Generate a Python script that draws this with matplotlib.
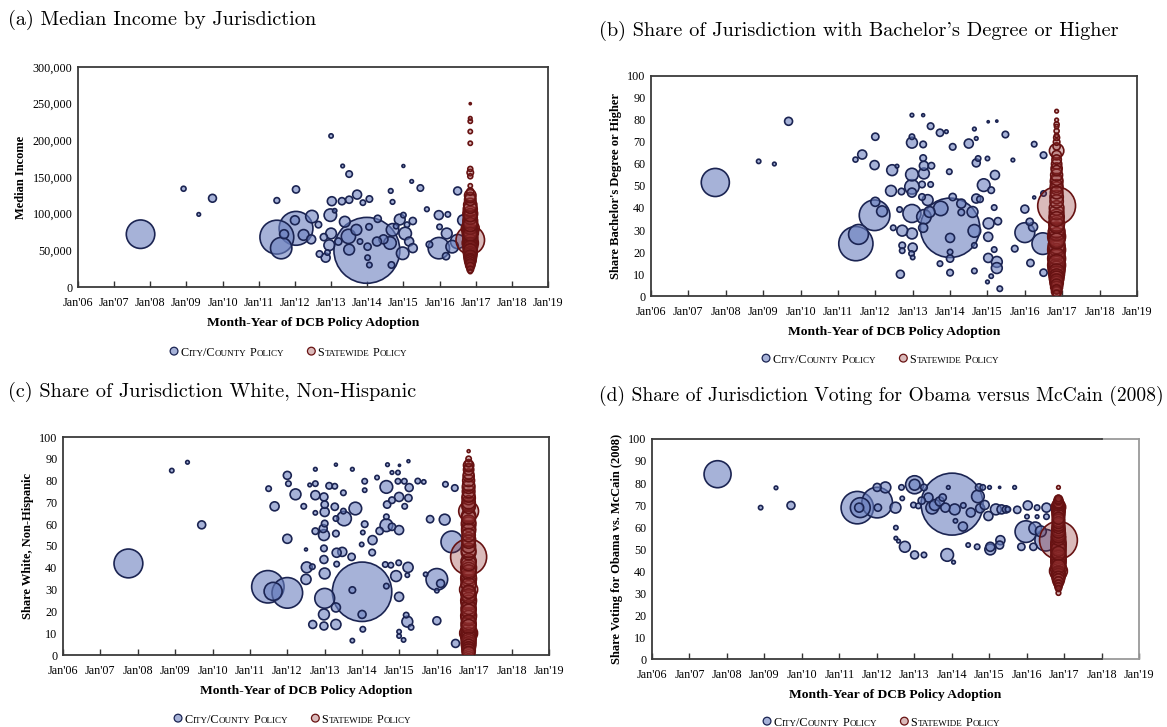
import numpy as np
import matplotlib
matplotlib.use('Agg')
import matplotlib.pyplot as plt
from matplotlib.ticker import StrMethodFormatter
from matplotlib.offsetbox import TextArea, HPacker, DrawingArea, AnchoredOffsetbox
from matplotlib.patches import Circle

# x axis: adoption month as fractional year
tick_years = [2006, 2007, 2008, 2009, 2010, 2011, 2012, 2013, 2014, 2015, 2016, 2017, 2018, 2019]
tick_labels = ["Jan'06", "Jan'07", "Jan'08", "Jan'09", "Jan'10", "Jan'11", "Jan'12",
               "Jan'13", "Jan'14", "Jan'15", "Jan'16", "Jan'17", "Jan'18", "Jan'19"]
state_date = 2016.85  # statewide policies all adopted late 2016

# (a) median income, city/county jurisdictions (pop in thousands)
a_city_date = [2007.73, 2008.92, 2009.34, 2009.72, 2011.50, 2011.50, 2011.62, 2012.03, 2012.03, 2012.00,
               2011.70, 2012.47, 2012.24, 2012.45, 2012.65, 2012.68, 2013.00, 2013.02, 2012.98, 2013.00,
               2012.95, 2012.85, 2013.32, 2013.50, 2013.30, 2013.50, 2013.38, 2013.48, 2013.72, 2013.88,
               2014.06, 2013.99, 2013.70, 2013.50, 2014.29, 2014.05, 2014.01, 2014.01, 2014.06, 2014.27,
               2014.65, 2014.70, 2014.70, 2014.63, 2014.67, 2015.00, 2015.23, 2015.47, 2014.90, 2015.00,
               2015.05, 2014.98, 2015.26, 2015.26, 2015.16, 2015.65, 2015.72, 2015.98, 2015.98, 2016.00,
               2016.23, 2016.20, 2016.50, 2016.50, 2016.18, 2016.35, 2016.65, 2013.10, 2013.20, 2012.80,
               2014.45, 2014.80, 2015.10, 2013.80, 2012.90]
a_city_income = [72000, 134000, 99000, 121000, 118000, 68000, 53000, 133000, 80000, 91000,
                 72000, 96000, 71000, 65000, 85000, 45000, 206000, 117000, 98000, 73000,
                 57000, 40000, 165000, 154000, 117000, 119000, 89000, 69000, 126000, 115000,
                 120000, 50000, 78000, 51000, 93000, 82000, 55000, 40000, 30000, 62000,
                 131000, 116000, 78000, 60000, 30000, 165000, 144000, 135000, 92000, 98000,
                 73000, 46000, 90000, 53000, 62000, 106000, 58000, 98000, 53000, 82000,
                 99000, 73000, 131000, 62000, 42000, 55000, 91000, 104000, 62000, 68000,
                 65000, 83000, 85000, 62000, 47000]
a_city_pop = [1870, 57, 29, 141, 75, 2637, 1052, 117, 2637, 183,
              183, 358, 263, 183, 95, 95, 42, 183, 358, 263,
              263, 183, 29, 95, 117, 117, 263, 467, 183, 66,
              95, 10000, 263, 263, 117, 95, 117, 66, 66, 183,
              49, 49, 358, 358, 95, 19, 29, 95, 263, 66,
              358, 358, 117, 183, 183, 49, 95, 183, 1052, 66,
              66, 263, 141, 467, 117, 358, 263, 42, 117, 117,
              183, 66, 66, 66, 66]
a_state_income = [250000, 230000, 226000, 212000, 196000, 161000, 156000, 151000, 138000, 130000,
                  125000, 122000, 119000, 112000, 109000, 106000, 100000, 98000, 95000, 90000,
                  88000, 85000, 82000, 80000, 76000, 74000, 72000, 68000, 66000, 64000,
                  62000, 60000, 58000, 56000, 54000, 52000, 50000, 48000, 46000, 44000,
                  42000, 40000, 38000, 36000, 34000, 32000, 30000, 28000, 24000, 21000]
a_state_pop = [10, 29, 42, 42, 42, 57, 95, 57, 42, 117,
               300, 250, 300, 400, 350, 450, 500, 400, 450, 500,
               450, 450, 500, 730, 500, 600, 450, 500, 500, 1870,
               500, 600, 450, 500, 450, 450, 400, 450, 400, 400,
               350, 350, 300, 300, 250, 200, 200, 150, 100, 40]

# (b) share with bachelor's degree or higher
b_city_date = [2007.72, 2008.88, 2009.30, 2009.68, 2011.47, 2011.65, 2011.48, 2011.55, 2012.00, 2011.98,
               2011.98, 2012.00, 2012.18, 2012.45, 2012.58, 2012.42, 2012.48, 2012.70, 2012.65, 2012.72,
               2012.72, 2012.72, 2012.67, 2012.98, 2012.98, 2012.98, 2012.98, 2012.98, 2012.98, 2012.98,
               2012.98, 2013.00, 2012.97, 2013.00, 2013.28, 2013.28, 2013.28, 2013.30, 2013.30, 2013.25,
               2013.25, 2013.30, 2013.28, 2013.48, 2013.50, 2013.48, 2013.40, 2013.45, 2013.73, 2013.90,
               2013.75, 2014.00, 2013.98, 2014.07, 2014.07, 2014.00, 2014.00, 2014.00, 2014.00, 2013.73,
               2014.30, 2014.30, 2014.50, 2014.65, 2014.70, 2014.75, 2014.70, 2014.70, 2014.80, 2014.60,
               2014.65, 2014.65, 2014.65, 2015.02, 2015.25, 2015.00, 2014.90, 2015.10, 2015.20, 2015.03,
               2015.02, 2015.18, 2015.02, 2015.18, 2015.25, 2015.25, 2015.10, 2015.00, 2015.33, 2015.28,
               2015.48, 2015.68, 2015.73, 2016.00, 2016.00, 2016.13, 2016.22, 2016.15, 2016.25, 2016.25,
               2016.50, 2016.50, 2016.48, 2016.50]
b_city_share = [51.6, 61.2, 60.0, 79.4, 62.0, 64.3, 23.8, 28.0, 72.4, 59.5,
                36.7, 42.8, 38.5, 57.2, 59.0, 47.8, 31.0, 47.5, 39.3, 29.7,
                23.0, 20.6, 9.9, 82.2, 72.4, 69.7, 55.2, 49.6, 47.0, 37.5,
                28.4, 22.0, 19.3, 17.5, 82.2, 68.9, 62.7, 59.2, 55.7, 50.7,
                45.0, 36.0, 31.0, 77.2, 59.2, 50.7, 43.6, 38.2, 74.2, 74.7,
                39.8, 31.0, 56.5, 67.8, 45.0, 26.4, 20.0, 17.0, 10.6, 14.7,
                42.0, 38.0, 69.3, 75.9, 71.6, 62.5, 60.5, 44.3, 44.0, 38.2,
                29.6, 23.0, 11.4, 79.2, 79.5, 62.5, 50.4, 48.1, 55.0, 33.0,
                26.9, 40.2, 17.3, 21.1, 15.5, 12.7, 9.0, 6.4, 3.3, 34.0,
                73.4, 61.8, 21.5, 39.5, 28.8, 33.7, 31.4, 15.0, 69.0, 44.8,
                64.0, 46.6, 23.8, 10.6]
b_city_pop = [2235, 53, 37, 178, 72, 230, 3315, 1111, 147, 230,
              2654, 230, 331, 331, 37, 331, 83, 119, 83, 331,
              119, 83, 178, 37, 83, 331, 450, 588, 230, 918,
              331, 230, 83, 53, 24, 119, 119, 230, 331, 119,
              119, 588, 230, 119, 119, 83, 331, 331, 147, 37,
              588, 10000, 83, 119, 147, 230, 83, 147, 119, 83,
              230, 119, 230, 37, 37, 83, 178, 230, 119, 331,
              450, 83, 83, 13, 13, 53, 450, 119, 230, 331,
              230, 83, 230, 83, 331, 331, 53, 37, 83, 147,
              119, 37, 119, 178, 1111, 147, 230, 147, 83, 24,
              119, 83, 1322, 147]
b_state_share = [84, 80, 78, 77, 75, 73, 72, 70, 68, 66,
                 64, 62, 60, 58, 57, 55, 53, 52, 50, 49,
                 47, 45, 43, 41, 40, 38, 36, 35, 33, 32,
                 30, 29, 27, 26, 25, 23, 22, 21, 20, 18,
                 17, 15, 14, 13, 12, 11, 10, 9, 8, 7,
                 6, 5, 4, 3, 2, 1]
b_state_pop = [37, 37, 72, 53, 72, 53, 100, 120, 150, 588,
               250, 250, 300, 350, 300, 400, 400, 450, 450, 450,
               450, 500, 500, 4050, 600, 600, 650, 600, 700, 650,
               700, 800, 900, 800, 700, 800, 800, 900, 800, 800,
               900, 800, 900, 800, 800, 700, 700, 600, 600, 500,
               500, 400, 400, 250, 300, 150]

# (c) share white, non-Hispanic
c_city_date = [2007.75, 2008.91, 2009.33, 2009.71, 2011.50, 2011.66, 2011.48, 2011.62, 2012.00, 2012.00,
               2012.03, 2012.00, 2012.22, 2012.44, 2012.50, 2012.52, 2012.50, 2012.67, 2012.68, 2012.75,
               2012.75, 2012.60, 2012.75, 2012.75, 2012.75, 2012.98, 2013.00, 2013.00, 2013.00, 2012.96,
               2012.98, 2012.98, 2012.98, 2013.00, 2013.00, 2012.98, 2012.98, 2013.12, 2013.27, 2013.30,
               2013.27, 2013.30, 2013.30, 2013.32, 2013.47, 2013.32, 2013.30, 2013.30, 2013.50, 2013.52,
               2013.50, 2013.74, 2013.82, 2013.72, 2013.74, 2013.74, 2014.00, 2014.07, 2014.07, 2014.07,
               2014.02, 2013.99, 2014.00, 2014.02, 2014.28, 2014.27, 2014.40, 2014.47, 2014.62, 2014.65,
               2014.68, 2014.80, 2014.96, 2015.00, 2015.24, 2014.65, 2014.67, 2014.65, 2014.65, 2014.80,
               2014.77, 2014.80, 2014.96, 2014.99, 2015.13, 2015.14, 2015.26, 2015.24, 2014.99, 2014.91,
               2014.98, 2015.23, 2015.21, 2014.99, 2015.18, 2015.21, 2015.31, 2014.99, 2014.99, 2015.11,
               2015.49, 2015.65, 2015.70, 2015.82, 2016.00, 2016.10, 2016.00, 2016.00, 2016.23, 2016.21,
               2016.48, 2016.40, 2016.50]
c_city_share = [42.0, 84.6, 88.4, 59.7, 76.3, 68.2, 31.3, 29.2, 28.5, 82.4,
                78.6, 53.3, 73.7, 68.2, 48.4, 40.2, 34.7, 40.5, 14.0, 85.2,
                78.6, 78.0, 73.3, 65.2, 56.8, 72.5, 69.0, 65.6, 60.3, 58.0,
                55.0, 48.9, 43.8, 37.4, 26.0, 18.6, 13.3, 77.6, 77.4, 87.3,
                68.0, 62.6, 55.7, 46.9, 47.3, 41.7, 21.8, 14.0, 74.4, 62.6,
                66.0, 85.2, 67.2, 45.0, 29.8, 6.6, 29.0, 79.7, 75.6, 60.0,
                56.2, 50.7, 18.6, 11.8, 52.7, 47.0, 81.4, 56.9, 41.5, 31.6,
                87.3, 83.7, 83.7, 87.0, 88.9, 77.1, 69.0, 63.4, 59.5, 58.8,
                41.2, 71.0, 79.7, 72.5, 79.7, 68.2, 76.8, 72.0, 57.3, 36.2,
                42.3, 40.2, 36.6, 26.7, 18.3, 15.3, 12.7, 10.7, 8.7, 6.9,
                79.8, 79.4, 37.0, 62.3, 34.7, 32.8, 15.7, 29.5, 78.3, 62.1,
                76.6, 51.9, 5.3]
c_city_pop = [2351, 53, 37, 178, 83, 230, 2975, 918, 2654, 178,
              83, 230, 331, 83, 24, 331, 288, 83, 178, 37,
              83, 37, 230, 53, 119, 178, 147, 230, 119, 178,
              331, 119, 178, 331, 1111, 331, 178, 119, 83, 24,
              147, 83, 119, 230, 230, 83, 230, 288, 83, 588,
              83, 37, 450, 147, 119, 53, 10000, 83, 53, 119,
              53, 53, 178, 83, 230, 119, 53, 147, 83, 83,
              37, 37, 53, 13, 24, 450, 147, 83, 450, 147,
              83, 119, 83, 230, 83, 83, 178, 147, 230, 331,
              83, 288, 53, 230, 83, 331, 83, 53, 53, 53,
              83, 53, 53, 147, 1322, 178, 178, 53, 83, 331,
              119, 1322, 178]
c_state_share = [93.5, 90, 88, 87, 86, 85, 83, 82, 80, 78,
                 77, 75, 73, 72, 70, 69, 68, 66, 64, 63,
                 61, 60, 58, 57, 55, 53, 52, 50, 48, 47,
                 45, 43, 42, 40, 39, 38, 36, 35, 33, 32,
                 30, 29, 28, 27, 25, 24, 22, 21, 20, 18,
                 17, 15, 14, 13, 11, 10, 9, 8, 7, 6,
                 5, 4, 3, 2, 1]
c_state_pop = [24, 80, 150, 300, 200, 300, 300, 350, 400, 400,
               450, 450, 450, 500, 500, 500, 500, 1111, 550, 550,
               550, 600, 550, 550, 500, 550, 500, 550, 600, 600,
               3673, 650, 600, 700, 650, 600, 650, 700, 650, 600,
               918, 500, 650, 600, 700, 650, 600, 650, 600, 700,
               650, 600, 650, 600, 650, 900, 700, 650, 600, 600,
               600, 550, 500, 500, 450]

# (d) 2008 two-party vote share for Obama
d_city_date = [2007.75, 2008.90, 2009.31, 2009.71, 2011.48, 2011.56, 2011.53, 2012.01, 2012.01, 2012.23,
               2012.03, 2012.50, 2012.51, 2012.51, 2012.58, 2012.75, 2012.66, 2012.68, 2013.01, 2013.01,
               2013.01, 2013.26, 2013.26, 2012.98, 2013.11, 2013.38, 2013.48, 2013.68, 2013.76, 2013.83,
               2014.01, 2013.88, 2014.05, 2013.91, 2014.08, 2014.10, 2014.30, 2014.31, 2014.51, 2014.44,
               2014.68, 2014.70, 2014.73, 2014.83, 2014.76, 2014.88, 2015.01, 2015.28, 2015.68, 2014.98,
               2015.03, 2015.03, 2015.28, 2015.30, 2015.18, 2015.33, 2015.50, 2015.75, 2016.03, 2016.01,
               2015.98, 2015.86, 2016.18, 2016.28, 2016.28, 2016.53, 2016.53, 2016.23, 2016.51, 2016.38,
               2013.20, 2013.55, 2015.45]
d_city_share = [84.0, 68.8, 77.8, 69.8, 68.8, 68.8, 68.8, 71.1, 78.0, 78.0,
                68.8, 68.8, 59.7, 54.9, 53.6, 51.0, 78.0, 73.0, 79.2, 79.2,
                47.3, 47.3, 78.0, 70.0, 69.6, 73.4, 68.8, 71.6, 73.4, 68.8,
                70.4, 47.3, 44.0, 78.0, 68.0, 62.8, 60.2, 69.8, 66.6, 51.8,
                51.0, 73.9, 78.0, 78.0, 68.5, 70.0, 78.0, 78.0, 78.0, 65.0,
                49.8, 51.0, 51.8, 54.0, 68.0, 68.0, 68.0, 67.8, 69.8, 64.7,
                57.9, 51.0, 51.0, 68.8, 64.7, 68.8, 64.7, 59.4, 54.0, 58.0,
                72.0, 70.0, 68.0]
d_city_pop = [2066, 53, 37, 178, 2975, 1111, 230, 2654, 178, 331,
              147, 331, 53, 37, 37, 331, 83, 53, 918, 331,
              178, 83, 119, 83, 83, 230, 450, 230, 147, 230,
              10866, 450, 37, 37, 331, 53, 230, 83, 230, 53,
              83, 450, 147, 83, 230, 230, 37, 13, 37, 230,
              331, 230, 178, 230, 331, 230, 83, 147, 230, 53,
              1322, 147, 147, 83, 37, 230, 83, 450, 1322, 331,
              147, 331, 147]
d_state_share = [78, 73, 72.5, 72, 71, 70.5, 70, 69, 68, 67,
                 66, 65, 64, 63, 62, 61, 60, 59, 58, 57,
                 56, 55, 54, 53, 52, 51, 50, 49, 48, 47,
                 46, 45, 44, 43, 42, 41, 40, 39, 38, 37,
                 36, 35, 34, 33, 32, 30]
d_state_pop = [37, 120, 200, 200, 300, 300, 400, 588, 500, 500,
               450, 450, 400, 450, 400, 450, 450, 500, 500, 550,
               550, 600, 4050, 650, 650, 650, 600, 650, 550, 650,
               650, 650, 650, 600, 550, 700, 900, 550, 550, 450,
               400, 300, 200, 150, 100, 60]

CITY_FACE = (0.42, 0.50, 0.75, 0.6)
CITY_EDGE = '#1b2452'
STATE_FACE = (0.57, 0.19, 0.19, 0.33)
STATE_EDGE = '#671212'
TIMES = 'Liberation Serif'
W, H = 1167, 727


def bubbles(ax, x, y, pop, scale, face, edge):
    x = np.asarray(x, float)
    y = np.asarray(y, float)
    pop = np.asarray(pop, float)
    order = np.argsort(pop)[::-1]  # big ones underneath
    ax.scatter(x[order], y[order], s=pop[order] * scale, facecolors=[face],
               edgecolors=edge, linewidths=1.2, zorder=3)


def style_axes(ax, ymax, ystep, ylabel):
    ax.set_xlim(2006, 2019)
    ax.set_xticks(tick_years)
    ax.set_xticklabels(tick_labels, fontfamily=TIMES, fontsize=8.7)
    ax.set_ylim(0, ymax)
    ax.set_yticks(np.arange(0, ymax + 1, ystep))
    for lab in ax.get_yticklabels():
        lab.set_fontfamily(TIMES)
        lab.set_fontsize(8.7)
    ax.tick_params(axis='x', direction='in', length=4, width=1, color='#333333', pad=7)
    ax.tick_params(axis='y', length=0, pad=4)
    for sp in ax.spines.values():
        sp.set_color('#3a3a3a')
        sp.set_linewidth(1.3)
    ax.set_xlabel('Month-Year of DCB Policy Adoption', fontfamily=TIMES,
                  fontweight='bold', fontsize=9.7, labelpad=6)
    ax.set_ylabel(ylabel, fontfamily=TIMES, fontweight='bold', fontsize=9, labelpad=4)


def small_caps(label, big=8.7, small=6.5):
    parts = []
    run, run_lower = '', None
    for ch in label + '\0':
        if ch == ' ' or ch == '\0':
            if run:
                size = small if run_lower else big
                parts.append(TextArea(run.upper(), textprops=dict(size=size, family=TIMES)))
            if ch == ' ':
                parts.append(DrawingArea(2.5, 1, 0, 0))
            run, run_lower = '', None
            continue
        low = ch.islower()
        if run and low != run_lower:
            size = small if run_lower else big
            parts.append(TextArea(run.upper(), textprops=dict(size=size, family=TIMES)))
            run = ''
        run += ch
        run_lower = low
    return parts


def add_legend(fig, xc, yc):
    parts = []
    for label, face, edge in [('City/County Policy', CITY_FACE, CITY_EDGE),
                              ('Statewide Policy', STATE_FACE, STATE_EDGE)]:
        da = DrawingArea(7, 7, 0, 1)
        da.add_artist(Circle((3.5, 3.5), 2.8, facecolor=face, edgecolor=edge, lw=0.9))
        parts.append(da)
        parts.append(DrawingArea(1, 1, 0, 0))
        parts += small_caps(label)
        parts.append(DrawingArea(16, 1, 0, 0))
    parts.pop()
    box = HPacker(children=parts, align='baseline', pad=0, sep=0)
    anchored = AnchoredOffsetbox(loc='center', child=box, pad=0, borderpad=0, frameon=False,
                                 bbox_to_anchor=(xc / W, 1 - yc / H),
                                 bbox_transform=fig.transFigure)
    fig.add_artist(anchored)


def add_title(fig, x, y, text):
    return fig.text(x / W, 1 - y / H, text, family=['cmr10', 'DejaVu Serif'], fontsize=14.6,
                    ha='left', va='center')


fig = plt.figure(figsize=(W / 100, H / 100), dpi=100)
fig.patch.set_facecolor('white')

# axes rectangles in pixels: left, top, right, bottom
rects = {'a': (78, 67, 548, 287), 'b': (651, 76, 1137, 296),
         'c': (63, 437, 549, 655), 'd': (652, 439, 1139, 659)}
axes = {}
for key, (l, t, r, b) in rects.items():
    axes[key] = fig.add_axes([l / W, 1 - b / H, (r - l) / W, (b - t) / H])

ax = axes['a']
bubbles(ax, a_city_date, a_city_income, a_city_pop, 0.225, CITY_FACE, CITY_EDGE)
bubbles(ax, [state_date] * len(a_state_income), a_state_income, a_state_pop, 0.225, STATE_FACE, STATE_EDGE)
style_axes(ax, 300000, 50000, 'Median Income')
ax.yaxis.set_major_formatter(StrMethodFormatter('{x:,.0f}'))
for lab in ax.get_yticklabels():
    lab.set_fontfamily(TIMES)
    lab.set_fontsize(8.7)

ax = axes['b']
bubbles(ax, b_city_date, b_city_share, b_city_pop, 0.183, CITY_FACE, CITY_EDGE)
bubbles(ax, [state_date] * len(b_state_share), b_state_share, b_state_pop, 0.183, STATE_FACE, STATE_EDGE)
style_axes(ax, 100, 10, "Share Bachelor's Degree or Higher")

ax = axes['c']
bubbles(ax, c_city_date, c_city_share, c_city_pop, 0.183, CITY_FACE, CITY_EDGE)
bubbles(ax, [state_date] * len(c_state_share), c_state_share, c_state_pop, 0.183, STATE_FACE, STATE_EDGE)
style_axes(ax, 100, 10, 'Share White, Non-Hispanic')

ax = axes['d']
bubbles(ax, d_city_date, d_city_share, d_city_pop, 0.183, CITY_FACE, CITY_EDGE)
bubbles(ax, [state_date] * len(d_state_share), d_state_share, d_state_pop, 0.183, STATE_FACE, STATE_EDGE)
style_axes(ax, 100, 10, 'Share Voting for Obama vs. McCain (2008)')
# frame fades out past Jan'18 on this panel
ax.spines['top'].set_bounds(2006, 2018)
ax.spines['bottom'].set_bounds(2006, 2018)
ax.spines['right'].set_color('#9a9a9a')
ax.axhline(100, xmin=12 / 13, xmax=1, color='#9a9a9a', lw=1.3, clip_on=False)
ax.axhline(0, xmin=12 / 13, xmax=1, color='#9a9a9a', lw=1.3, clip_on=False)

titles = [add_title(fig, 8, 20, '(a) Median Income by Jurisdiction'),
          add_title(fig, 599, 31, "(b) Share of Jurisdiction with Bachelor's Degree or Higher"),
          add_title(fig, 8, 392, '(c) Share of Jurisdiction White, Non-Hispanic'),
          add_title(fig, 599, 396, '(d) Share of Jurisdiction Voting for Obama versus McCain (2008)')]

# shrink any title that would run past the right edge
renderer = fig.canvas.get_renderer()
for t in titles:
    ext = t.get_window_extent(renderer)
    if ext.x1 > W - 3:
        t.set_fontsize(t.get_fontsize() * (W - 3 - ext.x0) / (ext.x1 - ext.x0))

add_legend(fig, 288, 353)
add_legend(fig, 880, 360)
add_legend(fig, 292, 720)
add_legend(fig, 881, 723)

fig.savefig('out.png', dpi=100, facecolor='white')
